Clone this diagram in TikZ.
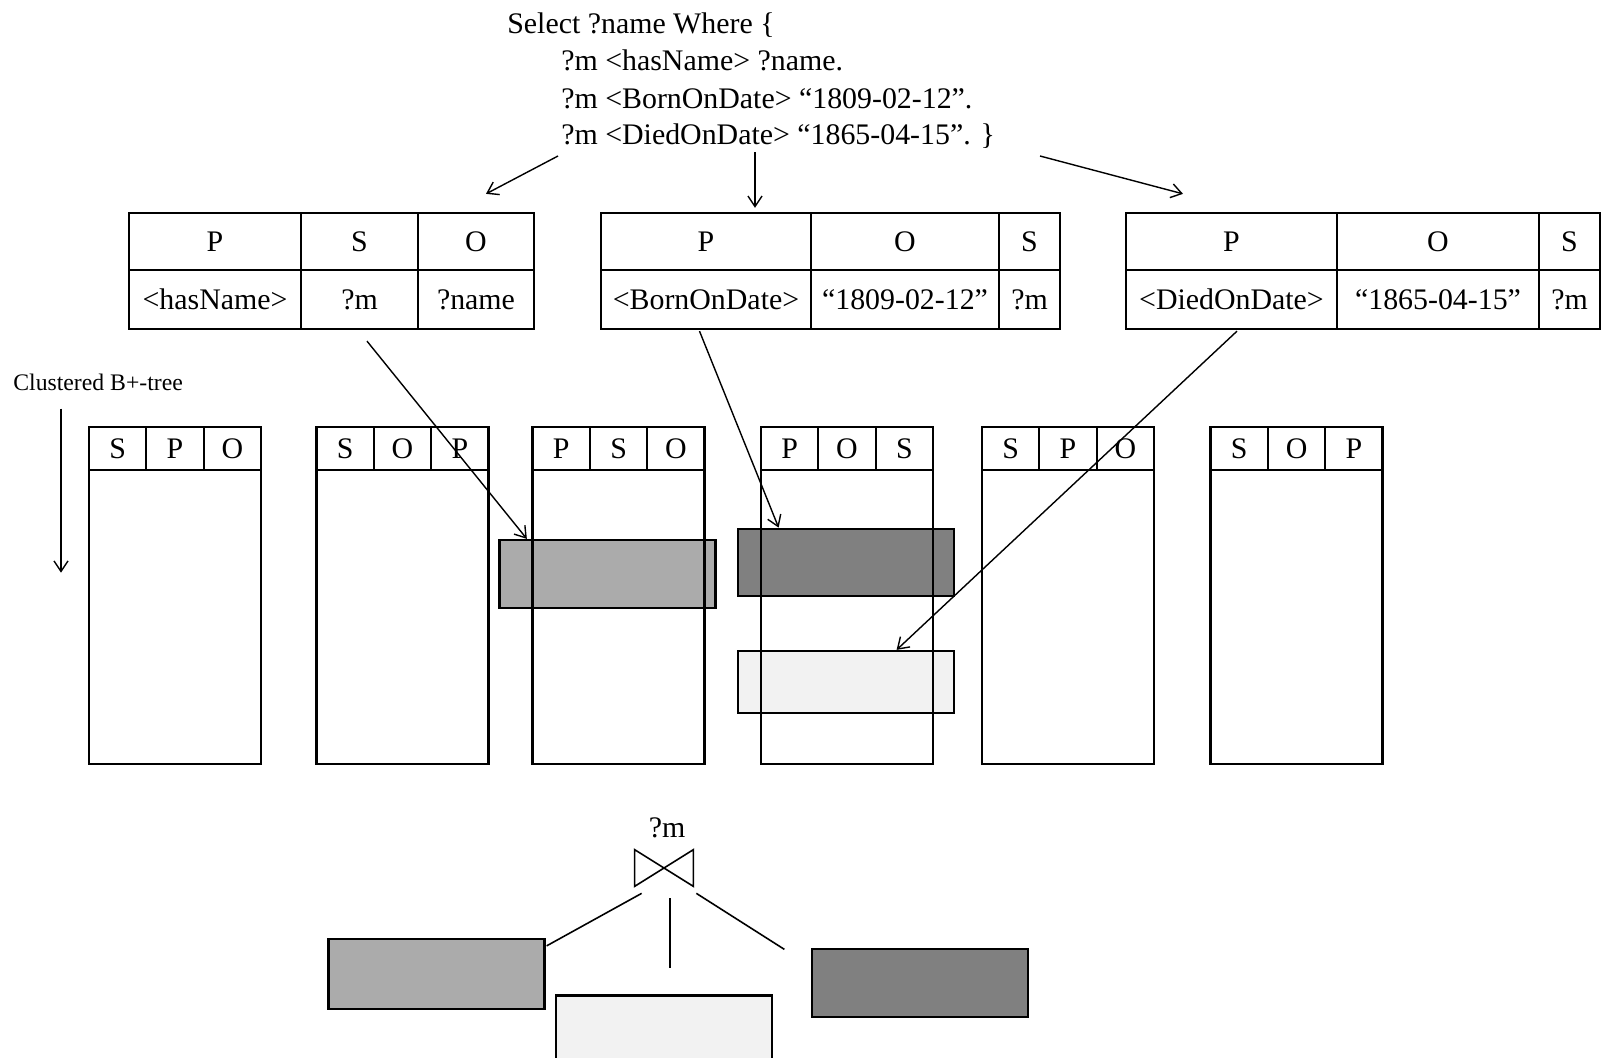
\documentclass[tikz,border=0pt]{standalone}
\usepackage{fontspec}
\setmainfont{Liberation Serif}
\usetikzlibrary{arrows.meta,positioning,calc}
\definecolor{HitMid}{HTML}{ABABAB}
\definecolor{HitDark}{HTML}{808080}
\definecolor{HitLight}{HTML}{F2F2F2}

\tikzset{
  txt/.style={font=\fontsize{17}{20}\selectfont, inner sep=0pt},
  cell/.style={draw, line width=1.3pt, inner sep=0pt, font=\fontsize{17}{20}\selectfont},
  idx/.style={draw, line width=1.3pt},
  hit/.style={draw, line width=1.3pt, inner sep=0pt, minimum width=216*0.02cm, minimum height=67*0.02cm},
  ptr/.style={line width=0.8pt, -{Straight Barb[length=6pt,width=8pt]}},
  edge/.style={line width=0.9pt},
}

\begin{document}
\begin{tikzpicture}[x=0.02cm, y=-0.02cm]
  \useasboundingbox (0,0) rectangle (1606,1058);

  % query
  \node[txt, anchor=base west] (q0) at (507,33) {Select ?name Where \{};
  \node[txt, anchor=base west] (q1) at (561,71) {?m <hasName> ?name.};
  \node[txt, anchor=base west] (q2) at (561,108) {?m <BornOnDate> “1809-02-12”.};
  \node[txt, anchor=base west] (q3) at (561,144) {?m <DiedOnDate> “1865-04-15”. \}};

  % triple pattern tables
  \foreach \l/\r/\hd/\val [count=\i] in {129/301/P/<hasName>, 301/418/S/?m, 418/534/O/?name}{
    \node[cell, minimum width={(\r-\l)*0.02cm}, minimum height=57*0.02cm] (ta\i) at ({(\l+\r)/2},241.5) {\hd};
    \node[cell, minimum width={(\r-\l)*0.02cm}, minimum height=59*0.02cm] (tav\i) at ({(\l+\r)/2},299.5) {\val};
  }
  \foreach \l/\r/\hd/\val [count=\i] in {601/811/P/<BornOnDate>, 811/999/O/“1809-02-12”, 999/1060/S/?m}{
    \node[cell, minimum width={(\r-\l)*0.02cm}, minimum height=57*0.02cm] (tb\i) at ({(\l+\r)/2},241.5) {\hd};
    \node[cell, minimum width={(\r-\l)*0.02cm}, minimum height=59*0.02cm] (tbv\i) at ({(\l+\r)/2},299.5) {\val};
  }
  \foreach \l/\r/\hd/\val [count=\i] in {1126/1337/P/<DiedOnDate>, 1337/1539/O/“1865-04-15”, 1539/1600/S/?m}{
    \node[cell, minimum width={(\r-\l)*0.02cm}, minimum height=57*0.02cm] (tc\i) at ({(\l+\r)/2},241.5) {\hd};
    \node[cell, minimum width={(\r-\l)*0.02cm}, minimum height=59*0.02cm] (tcv\i) at ({(\l+\r)/2},299.5) {\val};
  }

  \draw[ptr] ($(q3.base west)+(-3,12)$) -- ($(ta3.north)+(10,-18)$);
  \draw[ptr] ($(q3.base west)+(194,8)$) -- ($(tb1.north)+(49,-4)$);
  \draw[ptr] ($(q3.base west)+(479,12)$) -- ($(tc1.north)+(-48.5,-18)$);

  % matching ranges
  \node[hit, fill=HitMid, minimum height=68*0.02cm] (hitA) at (607.5,574) {};
  \node[hit, fill=HitDark] (hitB) at (845.75,562.25) {};
  \node[hit, fill=HitLight, minimum height=62*0.02cm] (hitC) at (845.75,682) {};

  % six clustered indexes
  \node[anchor=west, inner sep=0pt, font=\fontsize{13.5}{15}\selectfont] (clust) at (13,382) {Clustered B+-tree};
  \draw[ptr] ($(clust.south west)+(48,18)$) -- ++(0,164);
  \foreach \x/\a/\b/\c [count=\k] in {89/S/P/O, 316.5/S/O/P, 532.6/P/S/O, 761/P/O/S, 982/S/P/O, 1210.6/S/O/P}{
    \draw[idx] (\x,470) rectangle ++(172,294);
    \foreach \t [count=\j] in {\a,\b,\c}
      \node[cell, minimum width=57.33*0.02cm, minimum height=43*0.02cm] (ix\k-\j) at ({\x+57.33*(\j-0.5)},448.5) {\t};
  }

  \draw[ptr] ($(tav2.south)+(7.5,11)$) -- ($(hitA.north west)+(28.5,0)$);
  \draw[ptr] ($(tbv1.south)+(-6.5,1)$) -- ($(hitB.north west)+(42,0)$);
  \draw[ptr] ($(tcv1.south)+(5.5,1)$) -- ($(hitC.north west)+(160,0)$);

  % join of the three ranges
  \node[txt] (joinvar) at (667,827.5) {?m};
  \node[minimum width=58*0.02cm, minimum height=36*0.02cm, inner sep=0pt] (join) at (664,868) {};
  \draw[edge] (join.north west) -- (join.south west) -- (join.north east) -- (join.south east) -- cycle;

  \node[hit, fill=HitMid, minimum height=70*0.02cm] (jA) at (436.5,974) {};
  \node[hit, fill=HitLight] (jC) at (664,1029) {};
  \node[hit, fill=HitDark, minimum height=68*0.02cm] (jB) at (920,983) {};

  \draw[edge] ($(join.south west)+(7,7)$) -- ($(jA.north east)+(1,8)$);
  \draw[edge] ($(join.south)+(6,12)$) -- ++(0,70);
  \draw[edge] ($(join.south east)+(3,7)$) -- ($(jB.north west)+(-26.5,1.5)$);
\end{tikzpicture}
\end{document}
